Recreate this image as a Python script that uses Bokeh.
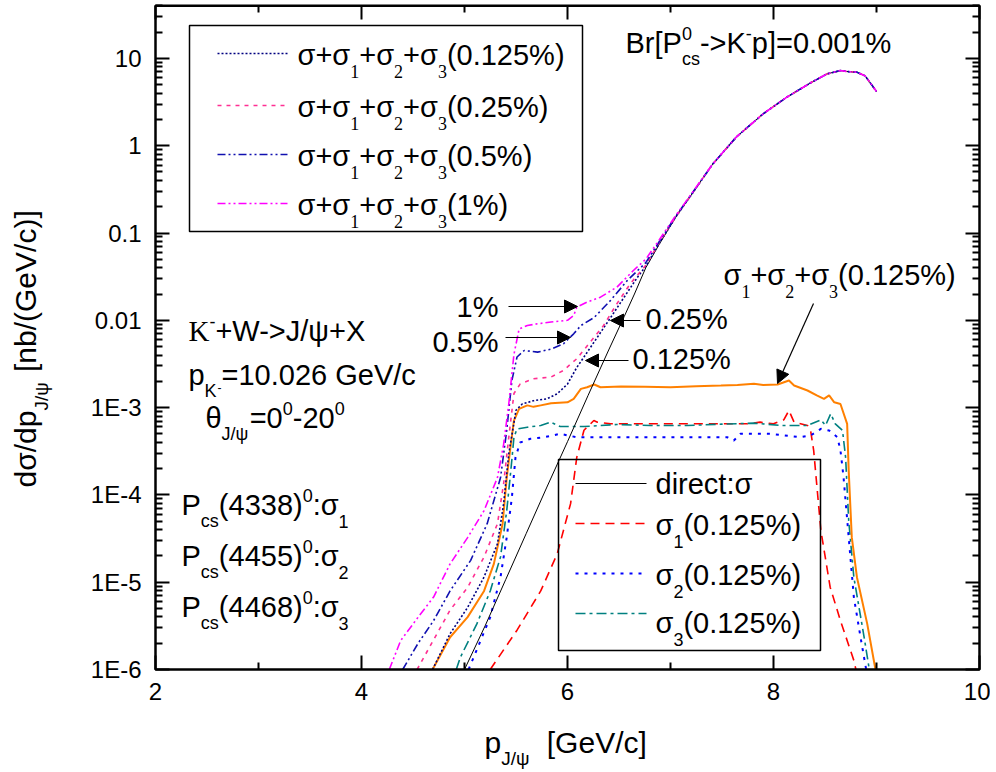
import math
from bokeh.plotting import figure
from bokeh.models import (Range1d, LinearAxis, LogAxis, FixedTicker, CustomJSTickFormatter,
                          Label, Arrow, NormalHead, BoxAnnotation)
from bokeh.embed import file_html
from bokeh.resources import INLINE

# ---------------- data ----------------
x_lo, x_hi = 2, 10
y_lo, y_hi = 1e-6, 40
xtick_vals = [2, 4, 6, 8, 10]
xtick_minor = [3, 5, 7, 9]
ytick_vals = [1e-6, 1e-5, 1e-4, 1e-3, 1e-2, 1e-1, 1, 10]
ytick_labels = ["1E-6", "1E-5", "1E-4", "1E-3", "0.01", "0.1", "1", "10"]

upper_x = [7.41, 7.64, 7.90, 8.13, 8.37, 8.52, 8.65, 8.71, 8.81, 8.89, 9.0]
upper_y = [0.617, 1.26, 2.32, 3.60, 5.33, 6.65, 7.26, 7.08, 6.95, 6.31, 4.17]

direct_x = [5.0, 5.2, 5.4, 5.6, 5.8, 6.0, 6.2, 6.4, 6.55, 6.65, 6.76, 6.89, 7.05, 7.21] + upper_x
direct_y = [1.0e-6, 3.16e-6, 1.07e-5, 3.63e-5, 1.23e-4, 4.07e-4, 1.38e-3, 4.57e-3,
            1.10e-2, 2.0e-2, 4.0e-2, 7.4e-2, 0.151, 0.282] + upper_y

tot125_x = [4.69, 4.86, 5.03, 5.19, 5.32, 5.38, 5.43, 5.50, 5.56, 5.67, 5.80, 5.90, 6.00,
            6.09, 6.16, 6.29, 6.42, 6.55, 6.68, 6.76, 6.89, 7.05, 7.21] + upper_x
tot125_y = [1.0e-6, 2.57e-6, 5.13e-6, 1.15e-5, 2.75e-5, 7.94e-5, 2.95e-4, 9.33e-4, 1.10e-3,
            1.20e-3, 1.26e-3, 1.44e-3, 1.86e-3, 2.88e-3, 3.80e-3, 6.40e-3, 1.08e-2, 1.84e-2,
            3.12e-2, 4.17e-2, 7.59e-2, 0.152, 0.282] + upper_y

tot25_x = [4.54, 4.70, 4.86, 5.03, 5.19, 5.32, 5.38, 5.43, 5.48, 5.54, 5.67, 5.84, 5.96,
           6.09, 6.22, 6.35, 6.48, 6.61, 6.76, 6.89, 7.05, 7.21] + upper_x
tot25_y = [1.0e-6, 2.19e-6, 4.79e-6, 8.71e-6, 1.95e-5, 4.68e-5, 1.35e-4, 4.57e-4, 1.45e-3,
           1.86e-3, 2.14e-3, 2.24e-3, 2.66e-3, 3.63e-3, 5.62e-3, 8.71e-3, 1.55e-2, 2.63e-2,
           4.27e-2, 7.76e-2, 0.153, 0.283] + upper_y

tot5_x = [4.40, 4.55, 4.70, 4.86, 5.06, 5.22, 5.35, 5.41, 5.46, 5.51, 5.58, 5.71, 5.84, 5.96,
          6.06, 6.13, 6.26, 6.42, 6.58, 6.76, 6.89, 7.05, 7.21] + upper_x
tot5_y = [1.0e-6, 2.0e-6, 3.63e-6, 7.94e-6, 1.78e-5, 4.68e-5, 1.58e-4, 5.50e-4, 2.04e-3,
          3.80e-3, 4.51e-3, 4.32e-3, 4.68e-3, 5.37e-3, 7.0e-3, 8.71e-3, 1.08e-2, 1.70e-2,
          2.85e-2, 4.57e-2, 7.94e-2, 0.155, 0.285] + upper_y

tot1_x = [4.27, 4.38, 4.55, 4.70, 4.86, 5.03, 5.19, 5.32, 5.38, 5.43, 5.48, 5.53, 5.61, 5.71,
          5.84, 6.00, 6.06, 6.09, 6.19, 6.32, 6.48, 6.64, 6.76, 6.89, 7.05, 7.21] + upper_x
tot1_y = [1.0e-6, 2.14e-6, 3.98e-6, 6.76e-6, 1.62e-5, 3.24e-5, 6.61e-5, 1.58e-4, 3.80e-4,
          1.10e-3, 4.07e-3, 7.94e-3, 8.71e-3, 9.12e-3, 9.55e-3, 1.0e-2, 1.135e-2, 1.41e-2,
          1.62e-2, 1.84e-2, 2.40e-2, 3.72e-2, 5.01e-2, 8.32e-2, 0.158, 0.288] + upper_y

s123_x = [4.69, 4.86, 5.03, 5.19, 5.285, 5.37, 5.41, 5.45, 5.48, 5.53, 5.61, 5.67, 5.74, 5.84,
          6.00, 6.06, 6.13, 6.19, 6.26, 6.32, 6.52, 6.75, 7.0, 7.25, 7.49, 7.65, 7.81, 7.9,
          8.04, 8.15, 8.20, 8.33, 8.42, 8.49, 8.54, 8.59, 8.65, 8.715, 8.73, 8.76, 8.81,
          8.91, 8.99]
s123_y = [1.0e-6, 2.34e-6, 3.98e-6, 7.94e-6, 1.62e-5, 4.68e-5, 1.58e-4, 3.80e-4, 7.08e-4,
          9.66e-4, 1.06e-3, 1.02e-3, 1.06e-3, 1.12e-3, 1.15e-3, 1.26e-3, 1.64e-3, 1.71e-3,
          1.84e-3, 1.71e-3, 1.75e-3, 1.73e-3, 1.71e-3, 1.76e-3, 1.79e-3, 1.82e-3, 1.87e-3,
          1.82e-3, 1.84e-3, 2.04e-3, 1.79e-3, 1.57e-3, 1.38e-3, 1.26e-3, 1.38e-3, 1.15e-3,
          1.10e-3, 6.52e-4, 1.91e-4, 3.28e-5, 1.14e-5, 3.33e-6, 1.0e-6]

s1_x = [5.25, 5.51, 5.74, 5.90, 6.03, 6.09, 6.16, 6.256, 6.29, 6.42, 6.64, 6.84, 7.32, 7.745,
        7.87, 8.0, 8.10, 8.15, 8.20, 8.33, 8.36, 8.39, 8.46, 8.55, 8.65, 8.78, 8.80]
s1_y = [1.0e-6, 2.82e-6, 7.94e-6, 2.11e-5, 7.94e-5, 2.69e-4, 5.50e-4, 7.11e-4, 6.81e-4,
        6.52e-4, 6.52e-4, 6.52e-4, 6.52e-4, 6.52e-4, 6.81e-4, 6.52e-4, 7.24e-4, 9.27e-4,
        6.81e-4, 6.24e-4, 5.47e-4, 3.24e-4, 3.91e-5, 8.77e-6, 3.63e-6, 1.27e-6, 1.0e-6]

s2_x = [5.04, 5.25, 5.35, 5.41, 5.46, 5.495, 5.54, 5.64, 5.77, 5.93, 6.09, 6.32, 6.52, 7.16,
        7.55, 7.615, 7.68, 7.97, 8.26, 8.36, 8.46, 8.54, 8.62, 8.65, 8.68, 8.73, 8.78,
        8.845, 8.89, 8.90]
s2_y = [1.0e-6, 3.98e-6, 1.15e-5, 3.27e-5, 9.33e-5, 2.69e-4, 3.98e-4, 4.39e-4, 4.57e-4,
        5.01e-4, 4.57e-4, 4.57e-4, 4.58e-4, 4.58e-4, 4.58e-4, 4.20e-4, 5.01e-4, 5.01e-4,
        4.58e-4, 4.79e-4, 5.71e-4, 5.47e-4, 4.58e-4, 3.24e-4, 1.60e-4, 3.28e-5, 6.76e-6,
        2.34e-6, 1.16e-6, 1.0e-6]

s3_x = [4.92, 4.96, 5.12, 5.25, 5.35, 5.41, 5.45, 5.48, 5.51, 5.61, 5.74, 5.835, 5.93, 6.16,
        6.48, 6.8, 7.16, 7.5, 7.81, 8.07, 8.33, 8.46, 8.505, 8.555, 8.60, 8.67, 8.70, 8.73,
        8.78, 8.88, 8.93]
s3_y = [1.0e-6, 1.38e-6, 3.33e-6, 7.94e-6, 1.95e-5, 6.61e-5, 1.91e-4, 4.57e-4, 5.70e-4,
        5.96e-4, 6.24e-4, 6.81e-4, 6.07e-4, 6.07e-4, 6.40e-4, 6.24e-4, 6.24e-4, 6.46e-4,
        6.64e-4, 6.24e-4, 6.24e-4, 7.24e-4, 6.24e-4, 8.49e-4, 6.52e-4, 5.47e-4, 2.70e-4,
        5.09e-5, 1.14e-5, 2.34e-6, 1.0e-6]

# ---------------- layout: the frame covers the whole canvas ----------------
SANS = "Liberation Sans"
SERIF = "Liberation Serif"
W, H = 990, 770
PX_L, PX_B = 155, 669          # page pixel of x=2 and of y=1e-6
PX_PER_X = 103.0
PX_PER_DEC = 87.3
xr0 = x_lo - PX_L / PX_PER_X
xr1 = x_lo + (W - PX_L) / PX_PER_X
yr0 = 10 ** (math.log10(y_lo) - (H - PX_B) / PX_PER_DEC)
yr1 = 10 ** (math.log10(y_lo) + PX_B / PX_PER_DEC)

p = figure(width=W, height=H, x_range=Range1d(xr0, xr1), y_range=Range1d(yr0, yr1),
           y_axis_type="log", output_backend="svg", toolbar_location=None,
           min_border=0, min_border_left=0, min_border_right=0,
           min_border_top=0, min_border_bottom=0)
p.title.visible = False
p.xgrid.visible = False
p.ygrid.visible = False
p.outline_line_color = None
p.background_fill_color = "white"
p.border_fill_color = "white"

yfmt = CustomJSTickFormatter(args=dict(vals=ytick_vals, labs=ytick_labels), code="""
let best = 0, bd = 1e9;
for (let i = 0; i < vals.length; i++) {
  const d = Math.abs(Math.log10(tick) - Math.log10(vals[i]));
  if (d < bd) { bd = d; best = i; }
}
return labs[best];
""")
blank = CustomJSTickFormatter(code="return '';")

yminor = [k * 10.0 ** e for e in range(-6, 2) for k in range(2, 10) if k * 10.0 ** e <= y_hi]
xticker = FixedTicker(ticks=xtick_vals, minor_ticks=xtick_minor)
yticker = FixedTicker(ticks=ytick_vals, minor_ticks=yminor)


def style(ax):
    ax.axis_line_color = None
    ax.major_tick_in = 14
    ax.major_tick_out = 0
    ax.minor_tick_in = 7
    ax.minor_tick_out = 0
    ax.major_tick_line_width = 2
    ax.minor_tick_line_width = 2
    ax.major_tick_line_color = "black"
    ax.minor_tick_line_color = "black"
    ax.major_label_text_font = SANS
    ax.major_label_text_font_size = "24px"
    ax.major_label_text_color = "black"


xa = p.xaxis[0]
xa.ticker = xticker
style(xa)
xa.fixed_location = y_lo
xa.major_label_standoff = 13
ya = p.yaxis[0]
ya.ticker = yticker
ya.formatter = yfmt
style(ya)
ya.fixed_location = x_lo
ya.major_label_standoff = 14

top = LinearAxis(ticker=xticker, formatter=blank)
style(top)
top.major_label_text_font_size = "1px"
top.major_label_standoff = 0
p.add_layout(top, "above")
top.fixed_location = y_hi
right = LogAxis(ticker=yticker, formatter=blank)
style(right)
right.major_label_text_font_size = "1px"
right.major_label_standoff = 0
p.add_layout(right, "right")
right.fixed_location = x_hi

# plot frame
p.add_layout(BoxAnnotation(left=x_lo, right=x_hi, bottom=y_lo, top=y_hi, fill_alpha=0,
                           line_color="black", line_alpha=1, line_width=2.5))

# ---------------- curves ----------------
p.line(s1_x, s1_y, line_color="#FF0000", line_width=1.6, line_dash="9 6")
p.line(s2_x, s2_y, line_color="#0000FF", line_width=2, line_dash="3 6")
p.line(s3_x, s3_y, line_color="#008080", line_width=1.6, line_dash="10 4 3 4")
p.line(s123_x, s123_y, line_color="#FF8000", line_width=2)
p.line(direct_x, direct_y, line_color="black", line_width=1)
p.line(tot125_x, tot125_y, line_color="#000080", line_width=1.6, line_dash="2 2")
p.line(tot25_x, tot25_y, line_color="#FF2F92", line_width=1.6, line_dash="4 5")
p.line(tot5_x, tot5_y, line_color="#1010B0", line_width=1.6, line_dash="8 3 2 3 2 3")
p.line(tot1_x, tot1_y, line_color="#FF00FF", line_width=1.6, line_dash="8 3 2 3 2 3")

# ---------------- text helpers (page pixel coordinates, Y = baseline) ----------------
WS = {' ': .278, '%': .889, '(': .333, ')': .333, '+': .584, '-': .333, '.': .278, '/': .278,
      ':': .278, '=': .584, '>': .584, '[': .278, ']': .278, 'B': .667, 'E': .667, 'G': .778,
      'J': .5, 'K': .667, 'P': .667, 'V': .667, 'W': .944, 'X': .667, 'b': .556, 'c': .5,
      'd': .556, 'e': .556, 'i': .222, 'n': .556, 'p': .556, 'r': .333, 's': .5, 't': .278,
      'σ': .617, 'ψ': .78, 'θ': .556}
WR = {'K': .722, '-': .333}
MID = 0.35          # baseline sits this many em below the centre line


def tw(s, size, font):
    tab = WR if font == SERIF else WS
    dflt = 0.5 if font == SERIF else 0.556
    return sum(tab.get(c, dflt) for c in s) * size


def put(X, Y, txt, size, font=SANS, angle=0.0):
    if angle == 0:
        x, y = X, Y - MID * size
    else:
        x, y = X - MID * size, Y
    p.add_layout(Label(x=x, y=H - y, x_units="screen", y_units="screen", text=txt,
                       text_font=font, text_font_size=f"{size:.1f}px", text_color="black",
                       text_align="left", text_baseline="middle", angle=angle))


def rich(X, Y, parts, size=29, vertical=False):
    sub = round(size * 0.62)
    d = 0.0

    def place(txt, sz, shift, font):
        if vertical:
            put(X + shift, Y - d, txt, sz, font, angle=math.pi / 2)
        else:
            put(X + d, Y + shift, txt, sz, font)

    for part in parts:
        kind = part[0]
        if kind == "g":
            d += part[1]
            continue
        if kind == "s":      # stacked sup / sub
            place(part[1], sub, -0.47 * size, SANS)
            place(part[2], sub, 0.42 * size, SANS)
            d += max(tw(part[1], sub, SANS), tw(part[2], sub, SANS))
            continue
        txt = part[1]
        font = part[2] if len(part) > 2 else SANS
        if kind == "n":
            sz, sh = size, 0.0
        elif kind == "b":
            sz, sh = sub, 0.42 * size
        else:
            sz, sh = sub, -0.47 * size
        place(txt, sz, sh, font)
        d += tw(txt, sz, font)


def seg(X0, Y0, X1, Y1, **kw):
    p.add_layout(Arrow(x_start=X0, y_start=H - Y0, x_end=X1, y_end=H - Y1,
                       start_units="screen", end_units="screen", start=None, end=None, **kw))


def arrow(X0, Y0, X1, Y1):
    p.add_layout(Arrow(x_start=X0, y_start=H - Y0, x_end=X1, y_end=H - Y1,
                       start_units="screen", end_units="screen", line_width=1.2,
                       end=NormalHead(size=13, fill_color="black", line_color="black")))


def box(L, T, R, B):
    p.add_layout(BoxAnnotation(left=L, right=R, top=H - T, bottom=H - B,
                               left_units="screen", right_units="screen",
                               top_units="screen", bottom_units="screen",
                               fill_alpha=0, line_color="black", line_alpha=1, line_width=1.5))


# ---------------- axis titles ----------------
rich(484, 752, [("n", "p"), ("b", "J/ψ"), ("g", 16), ("n", "[GeV/c]")], size=30)
rich(35, 487, [("n", "dσ/dp"), ("b", "J/ψ"), ("g", 9), ("n", "[nb/(GeV/c)]")],
     size=30, vertical=True)

# ---------------- upper-left legend ----------------
box(189, 25, 582, 231)
leg1 = [("0.125%)", "#000080", "2 2", 53), ("0.25%)", "#FF2F92", "4 5", 105),
        ("0.5%)", "#1010B0", "8 3 2 3 2 3", 154), ("1%)", "#FF00FF", "8 3 2 3 2 3", 203)]
for lab, col, dash, ly in leg1:
    seg(217, ly, 287, ly, line_color=col, line_width=1.6, line_dash=dash)
    rich(297, ly + 12, [("n", "σ+σ"), ("b", "1", SERIF), ("n", "+σ"), ("b", "2", SERIF),
                        ("n", "+σ"), ("b", "3", SERIF), ("n", "(" + lab)])

# ---------------- lower legend ----------------
box(558, 459, 820, 650)
seg(575, 483, 646, 483, line_color="black", line_width=1)
rich(655, 494, [("n", "direct:σ")])
seg(575, 523, 646, 523, line_color="#FF0000", line_width=1.6, line_dash="9 6")
rich(655, 535, [("n", "σ"), ("b", "1"), ("n", "(0.125%)")])
seg(575, 573, 646, 573, line_color="#0000FF", line_width=2, line_dash="3 6")
rich(655, 585, [("n", "σ"), ("b", "2"), ("n", "(0.125%)")])
seg(575, 613, 646, 613, line_color="#008080", line_width=1.6, line_dash="10 4 3 4")
rich(655, 633, [("n", "σ"), ("b", "3"), ("n", "(0.125%)")])

# ---------------- annotations ----------------
rich(625, 53, [("n", "Br[P"), ("s", "0", "cs"), ("n", "->K"), ("p", "-"), ("n", "p]=0.001%")])
rich(723, 285, [("n", "σ"), ("b", "1", SERIF), ("n", "+σ"), ("b", "2", SERIF), ("n", "+σ"),
                ("b", "3", SERIF), ("n", "(0.125%)")])
arrow(813, 303, 777, 383)

rich(188, 341, [("n", "K", SERIF), ("p", "-"), ("n", "+W->J/ψ+X")])
rich(188, 385, [("n", "p"), ("b", "K")])
put(217, 391, "-", 12)
put(221, 385, "=10.026 GeV/c", 29)
rich(205, 428, [("n", "θ"), ("b", "J/ψ"), ("n", "=0"), ("p", "0"), ("n", "-20"), ("p", "0")])
for num, yb, idx in (("4338", 515, "1"), ("4455", 566, "2"), ("4468", 617, "3")):
    rich(181, yb, [("n", "P"), ("b", "cs"), ("n", "(" + num + ")"), ("p", "0"), ("n", ":σ"),
                   ("b", idx)])

put(456, 317, "1%", 29)
arrow(508, 306, 577, 306)
put(432, 352, "0.5%", 29)
arrow(505, 337, 570, 337)
put(645, 329, "0.25%", 29)
arrow(640, 320, 610, 320)
put(632, 369, "0.125%", 29)
arrow(628, 360, 585, 360)

open("out.html", "w").write(file_html(p, INLINE))
